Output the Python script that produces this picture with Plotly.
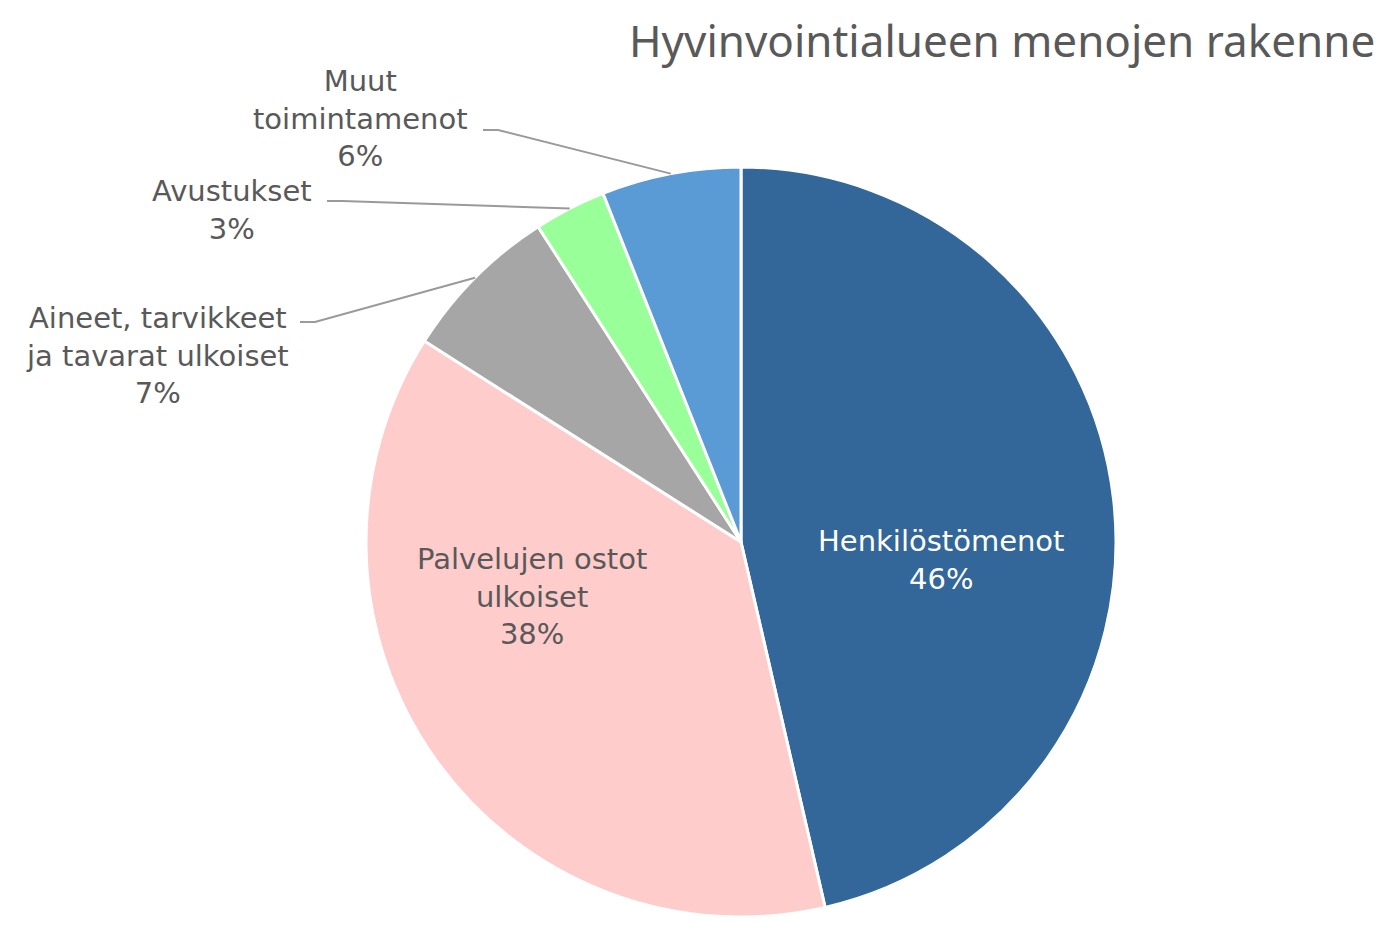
import math
import plotly.graph_objects as go

categories = ["Henkilöstömenot", "Palvelujen ostot ulkoiset", "Aineet, tarvikkeet ja tavarat ulkoiset",
              "Avustukset", "Muut toimintamenot"]
values = [46.4, 37.6, 6.9, 3.1, 6.0]
wrapped = ["Henkilöstömenot", "Palvelujen ostot<br>ulkoiset", "Aineet, tarvikkeet<br>ja tavarat ulkoiset",
           "Avustukset", "Muut<br>toimintamenot"]
colors = ["#336699", "#FFCCCC", "#A6A6A6", "#99FF99", "#5B9BD5"]

# page is 1389x925, body margin of 8px shifts the figure
OFF = 8
W, H = 1389 - 2 * OFF, 925 - 2 * OFF
CX, CY, R = 741, 542, 375
FONT = "'DejaVu Sans', sans-serif"
GRAY = "#595959"


def px(x):
    return (x - OFF) / W


def py(y):
    return 1 - (y - OFF) / H


total = sum(values)
pct = [f"{round(v / total * 100)}%" for v in values]

fig = go.Figure(go.Pie(
    labels=categories,
    values=values,
    textinfo="none",
    sort=False,
    direction="clockwise",
    rotation=0,
    marker=dict(colors=colors, line=dict(color="white", width=3)),
    domain=dict(x=[px(CX - R), px(CX + R)], y=[max(0, py(CY + R)), py(CY - R)]),
    showlegend=False,
    hoverinfo="label+percent",
))

# label centres (page px); outside labels also get a leader end point
label_pos = {0: (941, 560), 1: (532, 596), 2: (157, 355), 3: (232, 210), 4: (360, 118)}
leader_end = {2: (300, 322), 3: (327, 201), 4: (483, 130)}
text_col = ["white", GRAY, GRAY, GRAY, GRAY]

annotations = []
shapes = []
cum = 0
for i, v in enumerate(values):
    mid = (cum + v / 2) / total * 2 * math.pi
    cum += v
    if i in leader_end:
        rx = CX + R * math.sin(mid)
        ry = CY - R * math.cos(mid)
        ex, ey = leader_end[i]
        path = f"M {px(rx)} {py(ry)} L {px(ex + 15)} {py(ey)} L {px(ex)} {py(ey)}"
        shapes.append(dict(type="path", xref="paper", yref="paper", path=path,
                           line=dict(color="#9A9A9A", width=2)))
    lx, ly = label_pos[i]
    annotations.append(dict(x=px(lx), y=py(ly), xref="paper", yref="paper",
                            xanchor="center", yanchor="middle",
                            text=f"{wrapped[i]}<br>{pct[i]}", showarrow=False,
                            font=dict(family=FONT, size=29, color=text_col[i]), align="center"))

annotations.append(dict(x=px(1376), y=py(40), xref="paper", yref="paper",
                        xanchor="right", yanchor="middle", borderpad=0,
                        text="Hyvinvointialueen menojen rakenne", showarrow=False,
                        font=dict(family="'Noto Sans', sans-serif", size=44, color=GRAY)))

fig.update_layout(
    width=W, height=H,
    margin=dict(l=0, r=0, t=0, b=0),
    paper_bgcolor="white",
    annotations=annotations,
    shapes=shapes,
)

fig.write_html("out.html")
